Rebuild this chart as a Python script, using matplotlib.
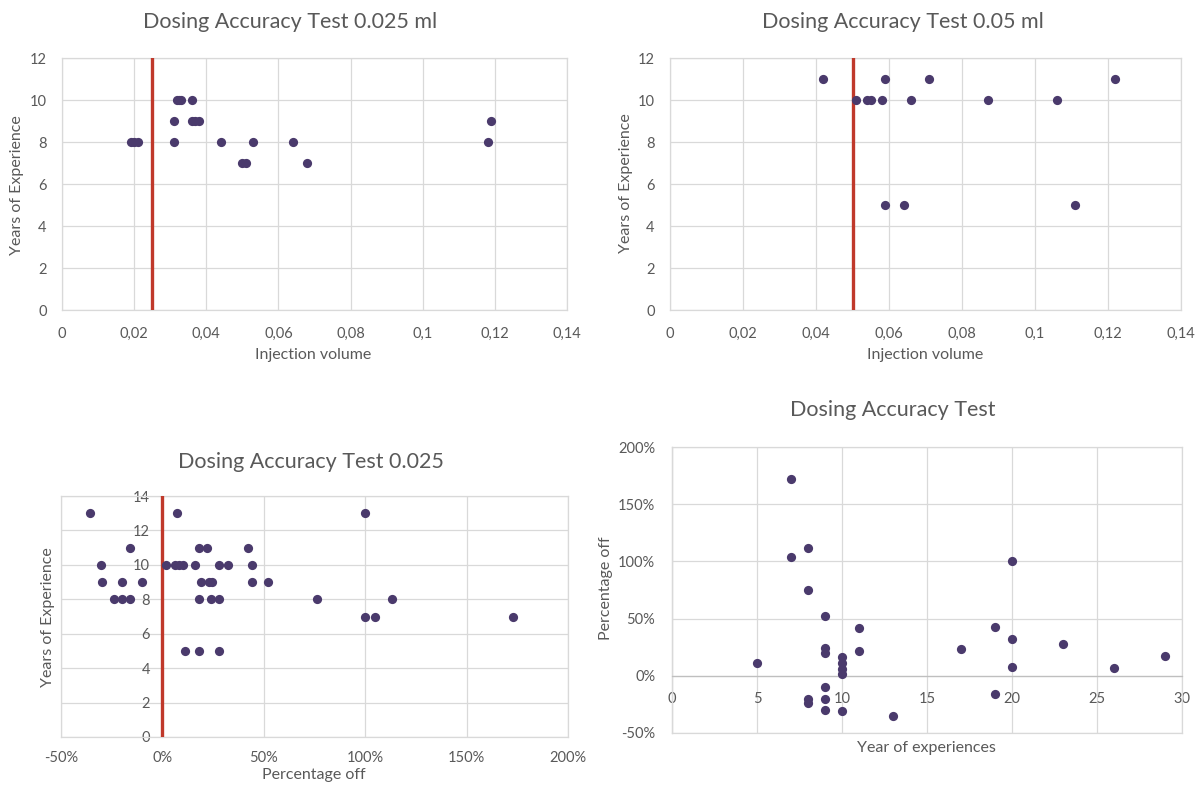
import matplotlib
matplotlib.use("Agg")
import matplotlib.pyplot as plt
from matplotlib.ticker import FixedLocator, FixedFormatter

plt.rcParams['font.family'] = ['Lato', 'DejaVu Sans']

# ---------------- data ----------------
# Panel 1: Dosing Accuracy Test 0.025 ml
p1_volume = [0.019, 0.020, 0.021, 0.031, 0.031, 0.032, 0.0325, 0.033, 0.036, 0.036,
             0.037, 0.038, 0.044, 0.050, 0.051, 0.053, 0.064, 0.068, 0.118, 0.119]
p1_years = [8, 8, 8, 8, 9, 10, 10, 10, 10, 9,
            9, 9, 8, 7, 7, 8, 8, 7, 8, 9]
p1_target = 0.025

# Panel 2: Dosing Accuracy Test 0.05 ml
p2_volume = [0.042, 0.051, 0.054, 0.055, 0.058, 0.059, 0.059, 0.064, 0.066, 0.071,
             0.087, 0.106, 0.111, 0.122]
p2_years = [11, 10, 10, 10, 10, 11, 5, 5, 10, 11,
            10, 10, 5, 11]
p2_target = 0.05

vol_ticks = [0, 0.02, 0.04, 0.06, 0.08, 0.10, 0.12, 0.14]
vol_tick_labels = ["0", "0,02", "0,04", "0,06", "0,08", "0,1", "0,12", "0,14"]
years12_ticks = [0, 2, 4, 6, 8, 10, 12]

# Panel 3: Dosing Accuracy Test 0.025 (percentage off vs years)
p3_pct = [-35.5, -30.3, -30, -20, -16, -10, -24, -20, -16,
          7.4, 2, 6, 8, 10, 16, 18, 22, 19, 23, 24.5, 28, 32.5, 18, 24, 28,
          11, 18, 28, 42, 44, 44, 52, 100, 76, 113, 100, 105, 173]
p3_years = [13, 10, 9, 9, 11, 9, 8, 8, 8,
            13, 10, 10, 10, 10, 10, 11, 11, 9, 9, 9, 10, 10, 8, 8, 8,
            5, 5, 5, 11, 10, 9, 9, 13, 8, 8, 7, 7, 7]
p3_target = 0
pct_ticks = [-50, 0, 50, 100, 150, 200]
pct_tick_labels = ["-50%", "0%", "50%", "100%", "150%", "200%"]
years14_ticks = [0, 2, 4, 6, 8, 10, 12, 14]

# Panel 4: Dosing Accuracy Test (years vs percentage off)
p4_years = [7, 7, 8, 8, 8, 8, 5, 9, 9, 9, 9, 9, 9, 10, 10, 10, 10, 10,
            11, 11, 13, 17, 19, 19, 20, 20, 20, 23, 26, 29]
p4_pct = [172, 104, 112, 75, -20, -24, 11, 52, 24, 20, -10, -20, -30, 16, 11, 6, 2, -31,
          42, 22, -35, 23.5, 43, -16, 100, 32, 8, 28, 7, 17.7]
years30_ticks = [0, 5, 10, 15, 20, 25, 30]
pct4_ticks = [-50, 0, 50, 100, 150, 200]

# ---------------- style ----------------
W, H = 1196, 785
TEXT = '#595959'
GRID = '#d9d9d9'
DOT = '#4a3a6c'
RED = '#c0392b'
DOT_S = 44
TICK_FS = 10.5
LABEL_FS = 11.5
TITLE_FS = 15.5

fig = plt.figure(figsize=(W / 100, H / 100), dpi=100)


def ax_px(left, top, right, bottom):
    return fig.add_axes([left / W, 1 - bottom / H, (right - left) / W, (bottom - top) / H])


def style(ax):
    ax.grid(True, color=GRID, linewidth=0.9)
    ax.set_axisbelow(True)
    for s in ax.spines.values():
        s.set_color(GRID)
        s.set_linewidth(0.9)
    ax.tick_params(length=0, colors=TEXT, labelsize=TICK_FS)


def ftext(x, y, s, **kw):
    fig.text(x / W, 1 - y / H, s, color=TEXT, ha='center', va='center', **kw)


# Panel 1
ax1 = ax_px(62, 58, 567, 310)
style(ax1)
ax1.axvline(p1_target, color=RED, linewidth=2.4, zorder=3)
ax1.scatter(p1_volume, p1_years, s=DOT_S, color=DOT, zorder=4, linewidths=0)
ax1.set_xlim(0, 0.14)
ax1.set_ylim(0, 12)
ax1.xaxis.set_major_locator(FixedLocator(vol_ticks))
ax1.xaxis.set_major_formatter(FixedFormatter(vol_tick_labels))
ax1.yaxis.set_major_locator(FixedLocator(years12_ticks))
ax1.tick_params(axis='x', pad=12)
ax1.tick_params(axis='y', pad=11)
ftext(290, 22, "Dosing Accuracy Test 0.025 ml", fontsize=TITLE_FS)
ftext(313, 355, "Injection volume", fontsize=LABEL_FS)
ftext(17, 185, "Years of Experience", fontsize=LABEL_FS, rotation=90)

# Panel 2
ax2 = ax_px(670, 58, 1181, 310)
style(ax2)
ax2.axvline(p2_target, color=RED, linewidth=2.4, zorder=3)
ax2.scatter(p2_volume, p2_years, s=DOT_S, color=DOT, zorder=4, linewidths=0)
ax2.set_xlim(0, 0.14)
ax2.set_ylim(0, 12)
ax2.xaxis.set_major_locator(FixedLocator(vol_ticks))
ax2.xaxis.set_major_formatter(FixedFormatter(vol_tick_labels))
ax2.yaxis.set_major_locator(FixedLocator(years12_ticks))
ax2.tick_params(axis='x', pad=12)
ax2.tick_params(axis='y', pad=11)
ftext(903, 22, "Dosing Accuracy Test 0.05 ml", fontsize=TITLE_FS)
ftext(925, 355, "Injection volume", fontsize=LABEL_FS)
ftext(626, 183, "Years of Experience", fontsize=LABEL_FS, rotation=90)

# Panel 3
ax3 = ax_px(61, 496, 568, 737)
style(ax3)
ax3.spines['left'].set_position(('data', 0))
ax3.axvline(-50, color=GRID, linewidth=0.9, zorder=0, clip_on=False)
ax3.axvline(p3_target, ymin=0.01, ymax=1.0, color=RED, linewidth=2.4, zorder=3)
ax3.scatter(p3_pct, p3_years, s=DOT_S, color=DOT, zorder=4, linewidths=0)
ax3.set_xlim(-50, 200)
ax3.set_ylim(0, 14)
ax3.xaxis.set_major_locator(FixedLocator(pct_ticks))
ax3.xaxis.set_major_formatter(FixedFormatter(pct_tick_labels))
ax3.yaxis.set_major_locator(FixedLocator(years14_ticks))
ax3.tick_params(axis='x', pad=10)
ax3.tick_params(axis='y', pad=9)
ftext(311, 462, "Dosing Accuracy Test 0.025", fontsize=TITLE_FS)
ftext(314, 775, "Percentage off", fontsize=LABEL_FS)
ftext(48, 617, "Years of Experience", fontsize=LABEL_FS, rotation=90)

# Panel 4
ax4 = ax_px(672, 447, 1182, 733)
style(ax4)
ax4.spines['bottom'].set_position(('data', 0))
ax4.spines['bottom'].set_color('#bfbfbf')
ax4.axhline(-50, color=GRID, linewidth=0.9, zorder=0, clip_on=False)
ax4.axvline(0, color=GRID, linewidth=0.9, zorder=0, clip_on=False)
ax4.scatter(p4_years, p4_pct, s=DOT_S, color=DOT, zorder=4, linewidths=0)
ax4.set_xlim(0, 30)
ax4.set_ylim(-50, 200)
ax4.xaxis.set_major_locator(FixedLocator(years30_ticks))
ax4.yaxis.set_major_locator(FixedLocator(pct4_ticks))
ax4.yaxis.set_major_formatter(FixedFormatter(pct_tick_labels))
ax4.tick_params(axis='x', pad=12)
ax4.tick_params(axis='y', pad=12)
ftext(893, 410, "Dosing Accuracy Test", fontsize=TITLE_FS)
ftext(926, 748, "Year of experiences", fontsize=LABEL_FS)
ftext(606, 588, "Percentage off", fontsize=LABEL_FS, rotation=90)

fig.savefig("out.png", dpi=100, facecolor='white')
